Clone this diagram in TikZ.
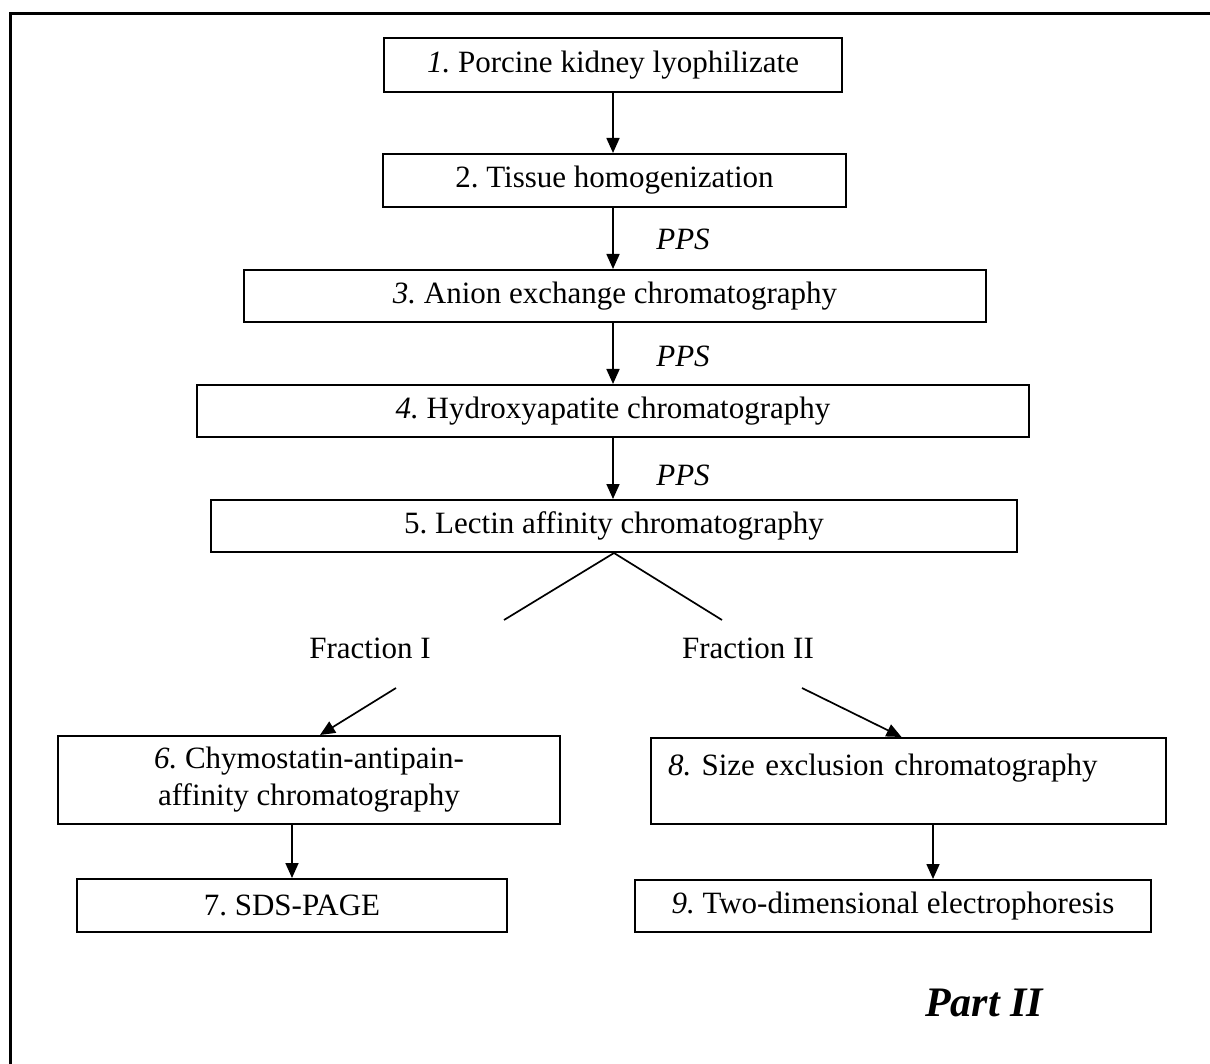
\documentclass[tikz,border=0pt]{standalone}
\usepackage{fontspec}
\setmainfont{Liberation Serif}
\usetikzlibrary{arrows.meta,positioning}
\frenchspacing

\begin{document}
\begin{tikzpicture}[x=1pt,y=-1pt,>={Triangle[width=13pt,length=15pt]},
  font=\fontsize{31}{37}\selectfont,
  stepbox/.style={draw,line width=2pt,inner sep=0pt},
  flow/.style={->,line width=1.7pt},
  branch/.style={line width=1.7pt}]
\useasboundingbox (0,0) rectangle (1210,1064);
\draw[line width=3pt] (10,1064) |- (1210,14);
% main column
\node[stepbox,line width=2.8pt,minimum width=458pt,minimum height=54pt] (b1) at (613,65) {\textit{1.} Porcine kidney lyophilizate};
\node[stepbox,minimum width=463pt,minimum height=53pt] (b2) at (614.5,180.5) {2. Tissue homogenization};
\node[stepbox,minimum width=742pt,minimum height=52pt] (b3) at (615,296) {\textit{3.} Anion exchange chromatography};
\node[stepbox,minimum width=832pt,minimum height=52pt] (b4) at (613,411) {\textit{4.} Hydroxyapatite chromatography};
\node[stepbox,minimum width=806pt,minimum height=52pt] (b5) at (614,526) {5. Lectin affinity chromatography};
\draw[flow] (b1.south) -- (b1.south |- b2.north);
\draw[flow] (b1.south |- b2.south) -- (b1.south |- b3.north);
\draw[flow] (b1.south |- b3.south) -- (b1.south |- b4.north);
\draw[flow] (b1.south |- b4.south) -- (b1.south |- b5.north);
\node[font=\fontsize{31}{37}\selectfont\itshape] (pps1) at (683,239) {PPS};
\node[font=\fontsize{31}{37}\selectfont\itshape] (pps2) at (683,356) {PPS};
\node[font=\fontsize{31}{37}\selectfont\itshape] (pps3) at (683,475) {PPS};
% split into two fractions
\coordinate (fl) at (504,620);
\coordinate (fr) at (722,620);
\draw[branch] (b5.south) -- (fl);
\draw[branch] (b5.south) -- (fr);
\node (f1) at (370,648) {Fraction I};
\node (f2) at (748,648) {Fraction II};
\coordinate (al) at (396,688);
\coordinate (ar) at (802,688);
% fraction I
\node[stepbox,minimum width=502pt,minimum height=88pt,align=center] (b6) at (309,780) {\textit{6.} Chymostatin-antipain-\\affinity chromatography};
\node[stepbox,minimum width=430pt,minimum height=53pt] (b7) at (292,905.5) {7. SDS-PAGE};
\draw[flow] (al) -- ([xshift=11pt]b6.north);
\draw[flow] (b7.north |- b6.south) -- (b7.north);
% fraction II
\node[stepbox,minimum width=515pt,minimum height=86pt,align=left,text width=481pt] (b8) at (908.5,781) {\textit{8.} Size exclusion chromatography\\[-16pt]\strut};
\node[stepbox,minimum width=516pt,minimum height=52pt] (b9) at (893,906) {\textit{9.} Two-dimensional electrophoresis};
\draw[flow] (ar) -- ([xshift=-7pt]b8.north);
\draw[flow] ([xshift=40pt]b9.north |- b8.south) -- ([xshift=40pt]b9.north);
\node[font=\fontsize{42}{50}\selectfont\bfseries\itshape] (part) at (984,1003) {Part II};
\end{tikzpicture}
\end{document}
